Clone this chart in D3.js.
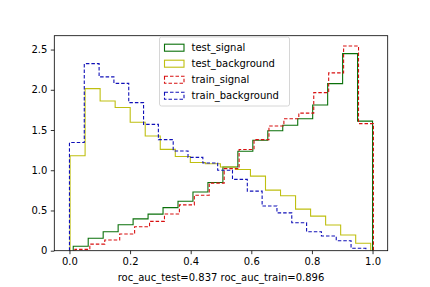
<!DOCTYPE html>
<html>
<head>
<meta charset="utf-8">
<script src="https://cdn.jsdelivr.net/npm/d3@7"></script>
<style>
  body { margin: 0; background: #fff; }
  svg { display: block; font-family: "DejaVu Sans", sans-serif; }
</style>
</head>
<body>
<svg id="chart" width="430" height="287"></svg>
<script>
// histogram values (density), 20 bins per series, each series has its own range
const testSignal = [0.055, 0.154, 0.236, 0.322, 0.395, 0.455, 0.536, 0.615, 0.73, 0.848,
  1.04, 1.237, 1.373, 1.49, 1.56, 1.64, 1.81, 2.077, 2.45, 1.61];
const testBackground = [1.18, 2.015, 1.86, 1.78, 1.597, 1.425, 1.26, 1.17, 1.097, 1.08,
  1.04, 1.01, 0.927, 0.753, 0.683, 0.517, 0.43, 0.319, 0.195, 0.092];
const trainSignal = [0.017, 0.082, 0.133, 0.207, 0.298, 0.364, 0.457, 0.57, 0.69, 0.84,
  1.02, 1.258, 1.38, 1.55, 1.64, 1.71, 1.965, 2.21, 2.545, 1.58];
const trainBackground = [1.345, 2.325, 2.16, 2.08, 1.84, 1.57, 1.38, 1.24, 1.16, 1.09,
  1.0, 0.886, 0.74, 0.555, 0.47, 0.347, 0.236, 0.182, 0.124, 0.03];

// [min, max] of each series' bins
const testSignalRange = [0.0125, 1.0];
const testBackgroundRange = [0.002, 0.994];
const trainSignalRange = [0.018, 1.003];
const trainBackgroundRange = [0.0, 0.978];

const seriesNames = ["test_signal", "test_background", "train_signal", "train_background"];
const xTicks = [0, 0.2, 0.4, 0.6, 0.8, 1.0];
const yTicks = [0, 0.5, 1.0, 1.5, 2.0, 2.5];
const xLabel = "roc_auc_test=0.837 roc_auc_train=0.896";

const series = [
  { name: seriesNames[0], values: testSignal, range: testSignalRange, color: "#0a700a", dash: null },
  { name: seriesNames[1], values: testBackground, range: testBackgroundRange, color: "#bfbf10", dash: null },
  { name: seriesNames[2], values: trainSignal, range: trainSignalRange, color: "#d81010", dash: "3.5,2" },
  { name: seriesNames[3], values: trainBackground, range: trainBackgroundRange, color: "#1010b8", dash: "3.5,2" }
];

const svg = d3.select("#chart");
const axLeft = 54.3, axRight = 387.7, axTop = 35.7, axBottom = 250.7;

const ymax = d3.max(series, s => d3.max(s.values)) * 1.05;
const x = d3.scaleLinear().domain([-0.05, 1.05]).range([axLeft, axRight]);
const y = d3.scaleLinear().domain([0, ymax]).range([axBottom, axTop]);

// step outline path for one histogram
function stepPoints(s) {
  const n = s.values.length;
  const w = (s.range[1] - s.range[0]) / n;
  const pts = [[s.range[0], 0]];
  s.values.forEach((v, i) => {
    pts.push([s.range[0] + i * w, v]);
    pts.push([s.range[0] + (i + 1) * w, v]);
  });
  pts.push([s.range[1], 0]);
  return pts;
}

const line = d3.line().x(d => x(d[0])).y(d => y(d[1]));

svg.append("defs").append("clipPath").attr("id", "clip")
  .append("rect").attr("x", axLeft).attr("y", axTop)
  .attr("width", axRight - axLeft).attr("height", axBottom - axTop);

svg.append("g").attr("clip-path", "url(#clip)")
  .selectAll("path")
  .data(series)
  .join("path")
  .attr("d", d => line(stepPoints(d)))
  .attr("fill", "none")
  .attr("stroke", d => d.color)
  .attr("stroke-width", 1.1)
  .attr("stroke-dasharray", d => d.dash);

// axes
const xAxis = d3.axisBottom(x).tickValues(xTicks).tickFormat(d3.format(".1f")).tickSizeOuter(0).tickSize(3.5).tickPadding(3.5);
const yAxis = d3.axisLeft(y).tickValues(yTicks).tickFormat(d => d === 0 ? "0" : d3.format(".1f")(d)).tickSizeOuter(0).tickSize(3.5).tickPadding(3.5);

const gx = svg.append("g").attr("transform", `translate(0,${axBottom})`).call(xAxis);
const gy = svg.append("g").attr("transform", `translate(${axLeft},0)`).call(yAxis);
[gx, gy].forEach(g => {
  g.select(".domain").remove();
  g.selectAll("text").attr("font-size", 10).attr("fill", "#000").attr("font-family", "DejaVu Sans");
  g.selectAll("line").attr("stroke", "#000").attr("stroke-width", 0.8);
});

svg.append("rect")
  .attr("x", axLeft).attr("y", axTop)
  .attr("width", axRight - axLeft).attr("height", axBottom - axTop)
  .attr("fill", "none").attr("stroke", "#000").attr("stroke-width", 0.8);

svg.append("text")
  .attr("x", (axLeft + axRight) / 2).attr("y", 281)
  .attr("text-anchor", "middle").attr("font-size", 10).attr("fill", "#000")
  .text(xLabel);

// legend
const legend = svg.append("g").attr("transform", "translate(159.5,37)");
legend.append("rect")
  .attr("width", 130).attr("height", 69).attr("rx", 2)
  .attr("fill", "#fff").attr("fill-opacity", 0.8)
  .attr("stroke", "#ccc").attr("stroke-width", 0.8);

const item = legend.selectAll("g.item")
  .data(series)
  .join("g")
  .attr("class", "item")
  .attr("transform", (d, i) => `translate(0,${10.7 + i * 16})`);

item.append("rect")
  .attr("x", 5).attr("y", -3.5).attr("width", 19.5).attr("height", 7)
  .attr("fill", "none")
  .attr("stroke", d => d.color)
  .attr("stroke-width", 1.1)
  .attr("stroke-dasharray", d => d.dash);

item.append("text")
  .attr("x", 32).attr("y", 3.6)
  .attr("font-size", 10).attr("fill", "#000")
  .text(d => d.name);
</script>
</body>
</html>
